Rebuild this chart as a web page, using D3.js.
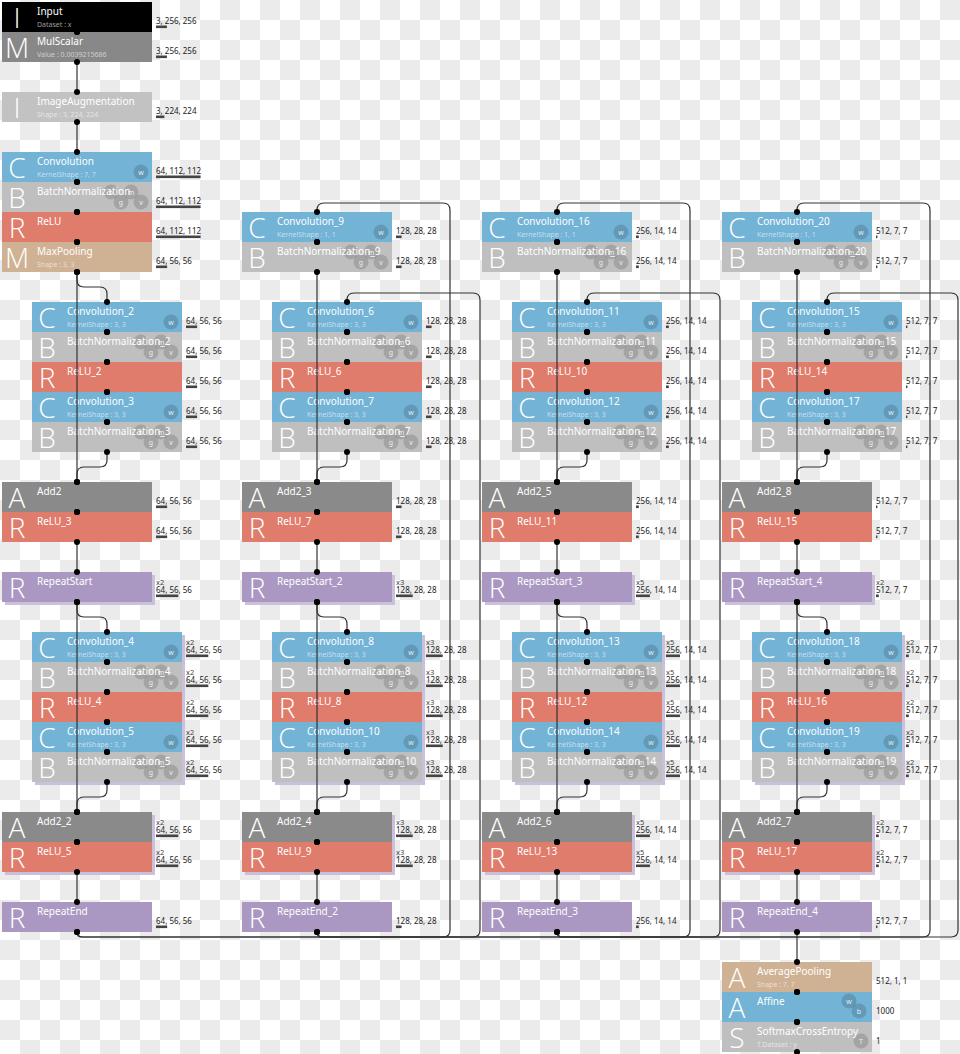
<!DOCTYPE html>
<html>
<head>
<meta charset="utf-8">
<script src="https://cdn.jsdelivr.net/npm/d3@7"></script>
<style>
  body { margin: 0; background: #fff; }
  svg { display: block; }
</style>
</head>
<body>
<svg id="chart"></svg>
<script>
// layer names, grid position (column, row), parameter text, output shape, repeat count
const nodeNames = [
  "Input", "MulScalar", "ImageAugmentation", "Convolution", "BatchNormalization", "ReLU", "MaxPooling",
  "Convolution_2", "BatchNormalization_2", "ReLU_2", "Convolution_3", "BatchNormalization_3",
  "Add2", "ReLU_3", "RepeatStart",
  "Convolution_4", "BatchNormalization_4", "ReLU_4", "Convolution_5", "BatchNormalization_5",
  "Add2_2", "ReLU_5", "RepeatEnd",
  "Convolution_9", "BatchNormalization_9",
  "Convolution_6", "BatchNormalization_6", "ReLU_6", "Convolution_7", "BatchNormalization_7",
  "Add2_3", "ReLU_7", "RepeatStart_2",
  "Convolution_8", "BatchNormalization_8", "ReLU_8", "Convolution_10", "BatchNormalization_10",
  "Add2_4", "ReLU_9", "RepeatEnd_2",
  "Convolution_16", "BatchNormalization_16",
  "Convolution_11", "BatchNormalization_11", "ReLU_10", "Convolution_12", "BatchNormalization_12",
  "Add2_5", "ReLU_11", "RepeatStart_3",
  "Convolution_13", "BatchNormalization_13", "ReLU_12", "Convolution_14", "BatchNormalization_14",
  "Add2_6", "ReLU_13", "RepeatEnd_3",
  "Convolution_20", "BatchNormalization_20",
  "Convolution_15", "BatchNormalization_15", "ReLU_14", "Convolution_17", "BatchNormalization_17",
  "Add2_8", "ReLU_15", "RepeatStart_4",
  "Convolution_18", "BatchNormalization_18", "ReLU_16", "Convolution_19", "BatchNormalization_19",
  "Add2_7", "ReLU_17", "RepeatEnd_4",
  "AveragePooling", "Affine", "SoftmaxCrossEntropy"
];
const nodeCol = [
  0, 0, 0, 0, 0, 0, 0,
  1, 1, 1, 1, 1,
  0, 0, 0,
  1, 1, 1, 1, 1,
  0, 0, 0,
  8, 8,
  9, 9, 9, 9, 9,
  8, 8, 8,
  9, 9, 9, 9, 9,
  8, 8, 8,
  16, 16,
  17, 17, 17, 17, 17,
  16, 16, 16,
  17, 17, 17, 17, 17,
  16, 16, 16,
  24, 24,
  25, 25, 25, 25, 25,
  24, 24, 24,
  25, 25, 25, 25, 25,
  24, 24, 24,
  24, 24, 24
];
const nodeRow = [
  0, 1, 3, 5, 6, 7, 8,
  10, 11, 12, 13, 14,
  16, 17, 19,
  21, 22, 23, 24, 25,
  27, 28, 30,
  7, 8,
  10, 11, 12, 13, 14,
  16, 17, 19,
  21, 22, 23, 24, 25,
  27, 28, 30,
  7, 8,
  10, 11, 12, 13, 14,
  16, 17, 19,
  21, 22, 23, 24, 25,
  27, 28, 30,
  7, 8,
  10, 11, 12, 13, 14,
  16, 17, 19,
  21, 22, 23, 24, 25,
  27, 28, 30,
  32, 33, 34
];
const K3 = "KernelShape : 3, 3", K1 = "KernelShape : 1, 1";
const nodeParams = [
  "Dataset : x", "Value : 0.0039215686", "Shape : 3, 224, 224", "KernelShape : 7, 7", "", "", "Shape : 3, 3",
  K3, "", "", K3, "", "", "", "", K3, "", "", K3, "", "", "", "",
  K1, "", K3, "", "", K3, "", "", "", "", K3, "", "", K3, "", "", "", "",
  K1, "", K3, "", "", K3, "", "", "", "", K3, "", "", K3, "", "", "", "",
  K1, "", K3, "", "", K3, "", "", "", "", K3, "", "", K3, "", "", "", "",
  "Shape : 7, 7", "", "T.Dataset : y"
];
const S64 = "64, 56, 56", S128 = "128, 28, 28", S256 = "256, 14, 14", S512 = "512, 7, 7";
const nodeShapes = [
  "3, 256, 256", "3, 256, 256", "3, 224, 224", "64, 112, 112", "64, 112, 112", "64, 112, 112", S64,
  S64, S64, S64, S64, S64, S64, S64, S64, S64, S64, S64, S64, S64, S64, S64, S64,
  S128, S128, S128, S128, S128, S128, S128, S128, S128, S128, S128, S128, S128, S128, S128, S128, S128, S128,
  S256, S256, S256, S256, S256, S256, S256, S256, S256, S256, S256, S256, S256, S256, S256, S256, S256, S256,
  S512, S512, S512, S512, S512, S512, S512, S512, S512, S512, S512, S512, S512, S512, S512, S512, S512, S512,
  "512, 1, 1", "1000", "1"
];
const nodeRepeat = [
  1, 1, 1, 1, 1, 1, 1,
  1, 1, 1, 1, 1, 1, 1, 2, 2, 2, 2, 2, 2, 2, 2, 1,
  1, 1, 1, 1, 1, 1, 1, 1, 1, 3, 3, 3, 3, 3, 3, 3, 3, 1,
  1, 1, 1, 1, 1, 1, 1, 1, 1, 5, 5, 5, 5, 5, 5, 5, 5, 1,
  1, 1, 1, 1, 1, 1, 1, 1, 1, 2, 2, 2, 2, 2, 2, 2, 2, 1,
  1, 1, 1
];
// connections, written as chains of layers
const edgeChains = [
  ["Input", "MulScalar", "ImageAugmentation", "Convolution", "BatchNormalization", "ReLU", "MaxPooling",
   "Convolution_2", "BatchNormalization_2", "ReLU_2", "Convolution_3", "BatchNormalization_3", "Add2", "ReLU_3",
   "RepeatStart", "Convolution_4", "BatchNormalization_4", "ReLU_4", "Convolution_5", "BatchNormalization_5",
   "Add2_2", "ReLU_5", "RepeatEnd"],
  ["MaxPooling", "Add2"],
  ["RepeatStart", "Add2_2"],
  ["RepeatEnd", "Convolution_9", "BatchNormalization_9", "Add2_3"],
  ["RepeatEnd", "Convolution_6", "BatchNormalization_6", "ReLU_6", "Convolution_7", "BatchNormalization_7",
   "Add2_3", "ReLU_7", "RepeatStart_2", "Convolution_8", "BatchNormalization_8", "ReLU_8", "Convolution_10",
   "BatchNormalization_10", "Add2_4", "ReLU_9", "RepeatEnd_2"],
  ["RepeatStart_2", "Add2_4"],
  ["RepeatEnd_2", "Convolution_16", "BatchNormalization_16", "Add2_5"],
  ["RepeatEnd_2", "Convolution_11", "BatchNormalization_11", "ReLU_10", "Convolution_12", "BatchNormalization_12",
   "Add2_5", "ReLU_11", "RepeatStart_3", "Convolution_13", "BatchNormalization_13", "ReLU_12", "Convolution_14",
   "BatchNormalization_14", "Add2_6", "ReLU_13", "RepeatEnd_3"],
  ["RepeatStart_3", "Add2_6"],
  ["RepeatEnd_3", "Convolution_20", "BatchNormalization_20", "Add2_8"],
  ["RepeatEnd_3", "Convolution_15", "BatchNormalization_15", "ReLU_14", "Convolution_17", "BatchNormalization_17",
   "Add2_8", "ReLU_15", "RepeatStart_4", "Convolution_18", "BatchNormalization_18", "ReLU_16", "Convolution_19",
   "BatchNormalization_19", "Add2_7", "ReLU_17", "RepeatEnd_4", "AveragePooling", "Affine", "SoftmaxCrossEntropy"],
  ["RepeatStart_4", "Add2_7"]
];

const W = 960, H = 1054;
const NW = 150, NH = 30;
const FONT = "'Segoe UI','Noto Sans',sans-serif";

const typeStyle = {
  Input: { fill: "#000000", letter: "I" },
  MulScalar: { fill: "#888888", letter: "M" },
  ImageAugmentation: { fill: "#c2c2c2", letter: "I" },
  Convolution: { fill: "#72b3d6", letter: "C", params: [["w", 139, 20]] },
  BatchNormalization: { fill: "#bfbfbf", letter: "B", params: [["b", 109, 10], ["m", 129, 10], ["g", 119, 20], ["v", 139, 20]] },
  ReLU: { fill: "#e07c6b", letter: "R" },
  MaxPooling: { fill: "#cfb194", letter: "M" },
  AveragePooling: { fill: "#cfb194", letter: "A" },
  Add2: { fill: "#8a8a8a", letter: "A" },
  RepeatStart: { fill: "#aa98c2", letter: "R" },
  RepeatEnd: { fill: "#aa98c2", letter: "R" },
  Affine: { fill: "#72b3d6", letter: "A", params: [["w", 127, 9], ["b", 137, 19]] },
  SoftmaxCrossEntropy: { fill: "#bfbfbf", letter: "S", params: [["T", 139, 19]] }
};

const x = d3.scaleLinear().domain([0, 1]).range([2, 32]);
const y = d3.scaleLinear().domain([0, 1]).range([2, 32]);
const barW = d3.scaleLinear().domain([0, 900000]).range([0, 50]);

const nodes = nodeNames.map((name, i) => ({
  name,
  type: name.replace(/_\d+$/, ""),
  left: x(nodeCol[i]),
  top: y(nodeRow[i]),
  param: nodeParams[i],
  shape: nodeShapes[i],
  size: nodeShapes[i].split(",").map(Number).reduce((a, b) => a * b, 1),
  repeat: nodeRepeat[i]
}));
const byName = new Map(nodes.map(d => [d.name, d]));

const edges = [];
edgeChains.forEach(chain => {
  for (let i = 1; i < chain.length; ++i) {
    edges.push({ source: byName.get(chain[i - 1]), target: byName.get(chain[i]) });
  }
});

const svg = d3.select("#chart").attr("width", W).attr("height", H);

// transparent background checker
const defs = svg.append("defs");
const pat = defs.append("pattern")
  .attr("id", "checker")
  .attr("patternUnits", "userSpaceOnUse")
  .attr("width", 40)
  .attr("height", 40);
pat.append("rect").attr("width", 40).attr("height", 40).attr("fill", "#ffffff");
pat.append("rect").attr("x", 20).attr("y", 0).attr("width", 20).attr("height", 20).attr("fill", "#ebebeb");
pat.append("rect").attr("x", 0).attr("y", 20).attr("width", 20).attr("height", 20).attr("fill", "#ebebeb");
svg.append("rect").attr("width", W).attr("height", H).attr("fill", "url(#checker)");

// shadows of repeated layers
svg.append("g")
  .selectAll("rect")
  .data(nodes.filter(d => d.repeat > 1))
  .enter()
  .append("rect")
    .attr("x", d => d.left + 3)
    .attr("y", d => d.top + 3)
    .attr("width", NW)
    .attr("height", NH)
    .attr("fill", "#cbc0dc");

const node = svg.append("g")
  .selectAll("g")
  .data(nodes)
  .enter()
  .append("g")
    .attr("transform", d => `translate(${d.left},${d.top})`);

node.append("rect")
  .attr("width", NW)
  .attr("height", NH)
  .attr("fill", d => typeStyle[d.type].fill);

node.each(function (d) {
  const g = d3.select(this);
  (typeStyle[d.type].params || []).forEach(p => {
    g.append("circle")
      .attr("cx", p[1])
      .attr("cy", p[2])
      .attr("r", 7.5)
      .attr("fill", "rgba(0,0,0,0.14)");
    g.append("text")
      .attr("x", p[1])
      .attr("y", p[2] + 2.5)
      .attr("text-anchor", "middle")
      .style("font-family", FONT)
      .style("font-size", "7px")
      .attr("fill", "rgba(255,255,255,0.85)")
      .text(p[0]);
  });
});

node.append("text")
  .attr("x", 15)
  .attr("y", 26)
  .attr("text-anchor", "middle")
  .style("font-family", "'Open Sans',sans-serif")
  .style("font-weight", 300)
  .style("font-size", "28px")
  .attr("fill", "#ffffff")
  .text(d => typeStyle[d.type].letter);

node.append("text")
  .attr("x", 35)
  .attr("y", 13)
  .style("font-family", FONT)
  .style("font-size", "10px")
  .attr("fill", "#ffffff")
  .text(d => d.name);

node.append("text")
  .attr("x", 35)
  .attr("y", 24.5)
  .style("font-family", FONT)
  .style("font-size", "7px")
  .attr("fill", "rgba(255,255,255,0.6)")
  .text(d => d.param);

// output shape labels
node.filter(d => d.repeat > 1)
  .append("text")
    .attr("x", NW + 4)
    .attr("y", 12.5)
    .style("font-family", FONT)
    .style("font-size", "7.5px")
    .attr("fill", "#444")
    .text(d => "x" + d.repeat);

node.append("text")
  .attr("x", NW + 4)
  .attr("y", d => d.repeat > 1 ? 20.5 : 21.5)
  .style("font-family", FONT)
  .style("font-size", "8px")
  .attr("fill", "#222")
  .text(d => d.shape);

node.append("rect")
  .attr("x", NW + 4)
  .attr("y", d => d.repeat > 1 ? 22.5 : 23.5)
  .attr("width", d => barW(d.size * d.repeat))
  .attr("height", 2.6)
  .attr("fill", "#444");

// orthogonal path with rounded corners
function roundedPath(pts, r) {
  pts = pts.filter((p, i) => i === 0 || p[0] !== pts[i - 1][0] || p[1] !== pts[i - 1][1]);
  let d = `M${pts[0][0]},${pts[0][1]}`;
  for (let i = 1; i < pts.length - 1; ++i) {
    const [x0, y0] = pts[i - 1], [x1, y1] = pts[i], [x2, y2] = pts[i + 1];
    const l1 = Math.hypot(x1 - x0, y1 - y0), l2 = Math.hypot(x2 - x1, y2 - y1);
    const rr = Math.min(r, i === 1 ? l1 : l1 / 2, i === pts.length - 2 ? l2 : l2 / 2);
    const ax = x1 - (x1 - x0) / l1 * rr, ay = y1 - (y1 - y0) / l1 * rr;
    const bx = x1 + (x2 - x1) / l2 * rr, by = y1 + (y2 - y1) / l2 * rr;
    d += `L${ax},${ay}Q${x1},${y1} ${bx},${by}`;
  }
  const last = pts[pts.length - 1];
  return d + `L${last[0]},${last[1]}`;
}

function edgePoints(e) {
  const x1 = e.source.left + NW / 2, y1 = e.source.top + NH;
  const x2 = e.target.left + NW / 2, y2 = e.target.top;
  if (y2 >= y1) {
    if (x1 === x2) return [[x1, y1], [x2, y2]];
    const ym = (y1 + y2) / 2;
    return [[x1, y1], [x1, ym], [x2, ym], [x2, y2]];
  }
  const xr = Math.min(e.target.left + 208, W - 2);
  return [[x1, y1], [x1, y1 + 5], [xr, y1 + 5], [xr, y2 - 9], [x2, y2 - 9], [x2, y2]];
}

svg.append("g")
  .selectAll("path")
  .data(edges)
  .enter()
  .append("path")
    .attr("d", e => roundedPath(edgePoints(e), 7))
    .attr("fill", "none")
    .attr("stroke", "#333")
    .attr("stroke-width", 1.2);

const dots = [];
edges.forEach(e => {
  dots.push([e.source.left + NW / 2, e.source.top + NH]);
  dots.push([e.target.left + NW / 2, e.target.top]);
});
dots.push([byName.get("SoftmaxCrossEntropy").left + NW / 2, byName.get("SoftmaxCrossEntropy").top + NH]);

svg.append("g")
  .selectAll("circle")
  .data(dots)
  .enter()
  .append("circle")
    .attr("cx", d => d[0])
    .attr("cy", d => d[1])
    .attr("r", 3)
    .attr("fill", "#000");
</script>
</body>
</html>
